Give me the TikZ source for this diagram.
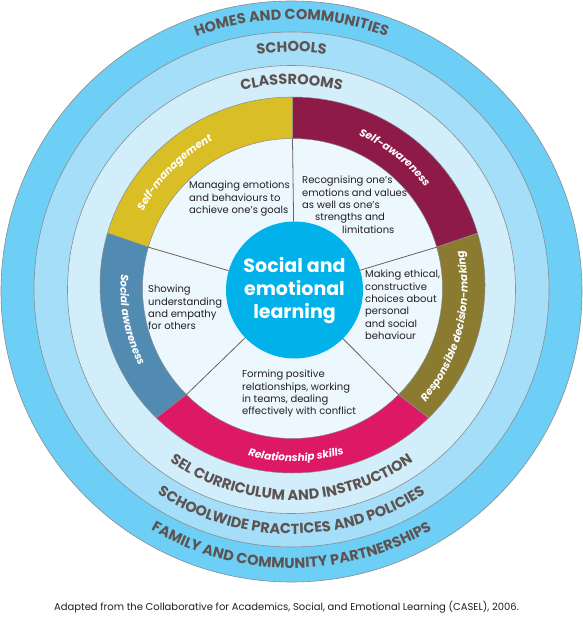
\documentclass[tikz,border=0pt]{standalone}
\usepackage{fontspec}
\setmainfont{Poppins}
\usetikzlibrary{decorations.text,calc}
\definecolor{homes}{HTML}{6DCFF6}
\definecolor{schools}{HTML}{A5DEF8}
\definecolor{classes}{HTML}{D2EEFB}
\definecolor{innerc}{HTML}{EDF8FE}
\definecolor{selblue}{HTML}{00B2E9}
\definecolor{smyellow}{HTML}{D9BE25}
\definecolor{samaroon}{HTML}{8E1B47}
\definecolor{rdolive}{HTML}{8B7B30}
\definecolor{rspink}{HTML}{DD1965}
\definecolor{sasteel}{HTML}{528BB1}
\definecolor{ringline}{HTML}{8A8C8E}
\definecolor{ringtxt}{HTML}{5E5351}
\definecolor{divline}{HTML}{6E605A}
\definecolor{bodytxt}{HTML}{231F20}
\newcommand\ringfont{\bfseries\fontsize{14.5}{14.5}\selectfont}
\newcommand\bandfont{\bfseries\itshape\fontsize{10.5}{10.5}\selectfont}
\newcommand\bodyfont{\fontsize{10}{12.3}\selectfont}
% colour, start angle, end angle
\newcommand\ringsector[3]{%
  \filldraw[fill=#1, draw=ringline, line width=0.5]
    ($(Co)+(#2:192.5 and 188)$) arc[start angle=#2, end angle=#3, x radius=192.5, y radius=188]
    -- ($(Ci)+(#3:150)$) arc[start angle=#3, end angle=#2, radius=150] -- cycle;}
\tikzset{
  ringtext/.style={decorate, decoration={text along path, text align=center,
      text color=ringtxt, text={|\ringfont|#1}}},
  bandtext/.style={decorate, decoration={text along path, text align=center,
      text color=white, text={|\bandfont|#1}}},
  bodytext/.style={anchor=north west, inner sep=0pt, align=left,
      text=bodytxt, font=\bodyfont},
  divider/.style={draw=divline, line width=0.8},
}
\begin{document}
\begin{tikzpicture}[x=1pt,y=1pt]
\useasboundingbox (0,0) rectangle (582,-623);
\fill[white] (0,0) rectangle (582,-623);
\coordinate (C0) at (291.5,-291.5);
\coordinate (C) at (291.5,-289.5);
\coordinate (Co) at (292.5,-285);
\coordinate (Ci) at (292.5,-288.5);
\filldraw[fill=homes, draw=ringline, line width=0.6] (C0) circle[radius=290.5];
\filldraw[fill=schools, draw=ringline, line width=0.6] (C) circle[radius=257.5];
\filldraw[fill=classes, draw=ringline, line width=0.6] (C) circle[radius=224];
\fill[innerc] (Ci) circle[radius=150.5];
\ringsector{samaroon}{16}{90}
\ringsector{smyellow}{90}{164}
\ringsector{sasteel}{164}{225}
\ringsector{rspink}{225}{315}
\ringsector{rdolive}{315}{376}
\begin{scope}[shift={(Ci)}]
  \coordinate (d1) at (16:150);
  \coordinate (d2) at (90:150);
  \coordinate (d3) at (164:150);
  \coordinate (d4) at (225:150);
  \coordinate (d5) at (315:150);
  % band labels
  \path[bandtext={Self-management}] (175:168) arc[start angle=175, end angle=96, radius=168];
  \path[bandtext={Self-awareness}] (92:167) arc[start angle=92, end angle=12, radius=167];
  \path[bandtext={Social awareness}] (160:172) arc[start angle=160, end angle=222, radius=172];
  \path[bandtext={Responsible decision-making}] (-50:175) arc[start angle=-50, end angle=22, radius=175];
  \path[bandtext={Relationship skills}] (236:173) arc[start angle=236, end angle=306.4, radius=173];
\end{scope}
\begin{scope}[shift={(C)}]
  \path[ringtext={HOMES AND COMMUNITIES}] (150:270) arc[start angle=150, end angle=30, radius=270];
  \path[ringtext={SCHOOLS}] (150:237.5) arc[start angle=150, end angle=30, radius=237.5];
  \path[ringtext={CLASSROOMS}] (150:205) arc[start angle=150, end angle=30, radius=205];
  \path[ringtext={SEL CURRICULUM AND INSTRUCTION}] (200:210.5) arc[start angle=200, end angle=340, radius=210.5];
  \path[ringtext={SCHOOLWIDE PRACTICES AND POLICIES}] (200:244.5) arc[start angle=200, end angle=340, radius=244.5];
  \path[ringtext={FAMILY AND COMMUNITY PARTNERSHIPS}] (200:278.5) arc[start angle=200, end angle=340, radius=278.5];
\end{scope}
\node[circle, fill=selblue, minimum size=137, inner sep=0pt, align=center,
  text=white, font=\bfseries\fontsize{19}{23}\selectfont] (sel) at (294.5,-290)
  {Social and\\emotional\\learning};
\draw[divider] (sel) -- (d1);
\draw[divider] (sel) -- (d2);
\draw[divider] (sel) -- (d3);
\draw[divider] (sel) -- (d4);
\draw[divider] (sel) -- (d5);
\node[bodytext] (sm) at (189,-181) {Managing emotions\\and behaviours to\\achieve one’s goals};
\node[bodytext] (sa) at (302,-176) {Recognising one’s\\emotions and values\\as well as one’s\\\hspace*{13pt}strengths and\\\hspace*{40pt}limitations};
\node[bodytext] (soc) at (148,-285) {Showing\\understanding\\and empathy\\for others};
\node[bodytext] (rd) at (365,-270) {Making ethical,\\constructive\\choices about\\personal\\and social\\behaviour};
\node[bodytext] (rs) at (242,-370) {Forming positive\\relationships, working\\in teams, dealing\\effectively with conflict};
\node[text=bodytxt, font=\fontsize{10}{12}\selectfont, inner sep=0pt] (src) at (286.5,-607)
  {Adapted from the Collaborative for Academics, Social, and Emotional Learning (CASEL), 2006.};
\end{tikzpicture}
\end{document}
